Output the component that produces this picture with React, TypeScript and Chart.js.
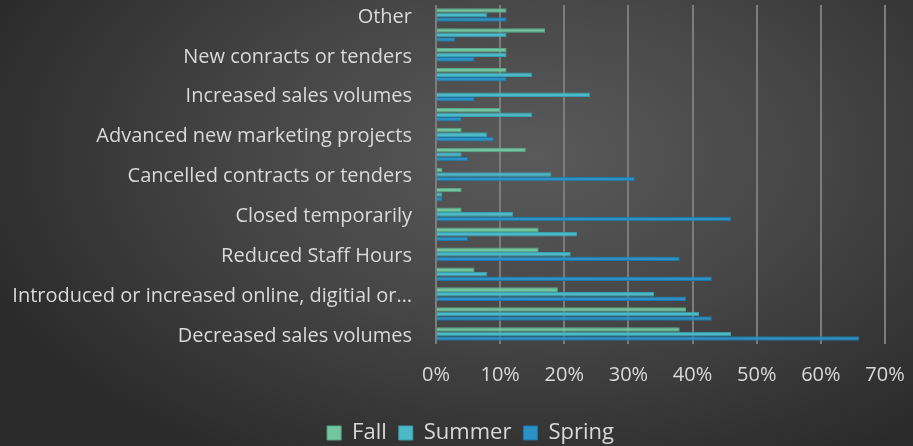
import React, { useEffect, useRef } from "react";
import { Chart, registerables } from "chart.js";

Chart.register(...registerables);

const categories = [
  "Other",
  "Hired new staff",
  "New conracts or tenders",
  "Accessed government supports",
  "Increased sales volumes",
  "Introduced new products or services",
  "Advanced new marketing projects",
  "Delayed investment",
  "Cancelled contracts or tenders",
  "Closed permanently",
  "Closed temporarily",
  "Laid off staff",
  "Reduced Staff Hours",
  "Cancelled events",
  "Introduced or increased online, digitial or…",
  "Decreased revenue",
  "Decreased sales volumes",
];

const fallValues = [11, 17, 11, 11, 0, 10, 4, 14, 1, 4, 4, 16, 16, 6, 19, 39, 38];
const summerValues = [8, 11, 11, 15, 24, 15, 8, 4, 18, 1, 12, 22, 21, 8, 34, 41, 46];
const springValues = [11, 3, 6, 11, 6, 4, 9, 5, 31, 1, 46, 5, 38, 43, 39, 43, 66];

const xTicks = [0, 10, 20, 30, 40, 50, 60, 70];

const legendShift = {
  id: "legendShift",
  afterLayout(chart: any) {
    if (chart.legend) {
      chart.legend.left += 56;
    }
  },
};

export default function App() {
  const ref = useRef<HTMLCanvasElement | null>(null);

  useEffect(() => {
    if (!ref.current) return;
    const font = "'Open Sans', Lato, sans-serif";
    const chart = new Chart(ref.current, {
      type: "bar",
      data: {
        labels: categories,
        datasets: [
          { label: "Fall", data: fallValues, backgroundColor: "#72c5a0", borderColor: "#58a987", borderWidth: 1 },
          { label: "Summer", data: summerValues, backgroundColor: "#4cb9c8", borderColor: "#389faf", borderWidth: 1 },
          { label: "Spring", data: springValues, backgroundColor: "#2c92c5", borderColor: "#1d76a7", borderWidth: 1 },
        ],
      },
      plugins: [legendShift],
      options: {
        indexAxis: "y",
        responsive: false,
        animation: false,
        layout: { padding: { top: 5, right: 28, left: 0, bottom: -8 } },
        datasets: { bar: { categoryPercentage: 0.68, barPercentage: 1 } },
        scales: {
          x: {
            min: 0,
            max: 70,
            afterBuildTicks: (scale: any) => {
              scale.ticks = xTicks.map((v) => ({ value: v }));
            },
            afterFit: (scale: any) => {
              scale.height = 66;
              scale.paddingLeft = 0;
              scale.paddingRight = 0;
            },
            grid: { color: "#7c7c7c", lineWidth: 2, drawTicks: false },
            border: { display: false },
            ticks: {
              color: "#d9d9d9",
              font: { family: font, size: 20 },
              padding: 19,
              maxRotation: 0,
              callback: (v: any) => v + "%",
            },
          },
          y: {
            afterFit: (scale: any) => {
              scale.width = 436;
              scale.paddingTop = 0;
              scale.paddingBottom = 0;
            },
            grid: { display: false, drawTicks: false },
            border: { display: false },
            ticks: {
              autoSkip: false,
              color: "#d9d9d9",
              font: { family: font, size: 20 },
              padding: 24,
              labelOffset: 2,
              callback: (_v: any, i: number) => (i % 2 === 0 ? categories[i] : ""),
            },
          },
        },
        plugins: {
          legend: {
            position: "bottom",
            labels: {
              color: "#d9d9d9",
              font: { family: font, size: 22 },
              boxWidth: 14,
              boxHeight: 14,
              padding: 12,
            },
          },
          tooltip: { enabled: false },
        },
      },
    });
    return () => chart.destroy();
  }, []);

  return (
    <div
      style={{
        position: "fixed",
        left: 0,
        top: 0,
        width: 913,
        height: 446,
        background:
          "radial-gradient(ellipse 65% 80% at 58% 35%, #5a5a5a 0%, #474747 45%, #2a2a2a 100%)",
      }}
    >
      <canvas ref={ref} width={913} height={446} style={{ display: "block" }} />
    </div>
  );
}
